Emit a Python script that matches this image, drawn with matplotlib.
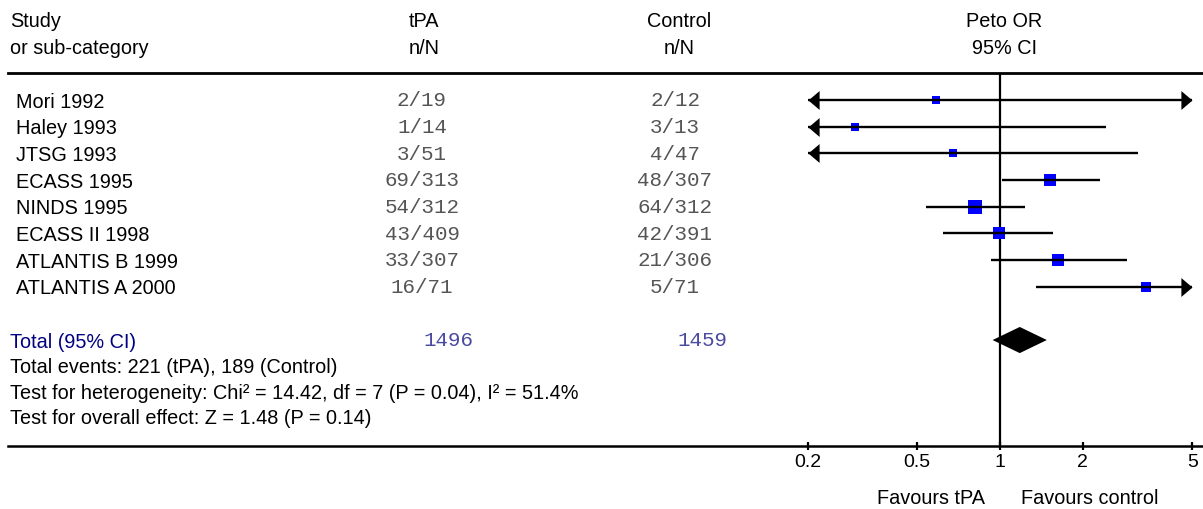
import numpy as np
import matplotlib
matplotlib.use("Agg")
import matplotlib.pyplot as plt
from matplotlib.path import Path
from matplotlib.markers import MarkerStyle
import matplotlib.transforms as mtransforms

plt.rcParams['font.family'] = ['Liberation Sans', 'DejaVu Sans']

# datos del forest plot
studies = ['Mori 1992', 'Haley 1993', 'JTSG 1993', 'ECASS 1995', 'NINDS 1995',
           'ECASS II 1998', 'ATLANTIS B 1999', 'ATLANTIS A 2000']
tpa_n = [2, 1, 3, 69, 54, 43, 33, 16]
tpa_N = [19, 14, 51, 313, 312, 409, 307, 71]
ctl_n = [2, 3, 4, 48, 64, 42, 21, 5]
ctl_N = [12, 13, 47, 307, 312, 391, 306, 71]
peto_or = [0.585, 0.297, 0.675, 1.52, 0.81, 0.99, 1.62, 3.39]
ci_lo = [0.07, 0.03, 0.12, 1.02, 0.54, 0.62, 0.93, 1.35]
ci_hi = [5.02, 2.43, 3.18, 2.31, 1.23, 1.56, 2.89, 8.5]
weights = [1.8, 1.5, 1.5, 14.0, 21.0, 15.0, 13.0, 5.5]

total_or = 1.18
total_lo = 0.94
total_hi = 1.48

footer = ['Total events: %d (tPA), %d (Control)' % (sum(tpa_n), sum(ctl_n)),
          'Test for heterogeneity: Chi² = 14.42, df = 7 (P = 0.04), I² = 51.4%',
          'Test for overall effect: Z = 1.48 (P = 0.14)']

ticks = [0.2, 0.5, 1, 2, 5]
x_min, x_max = 0.2, 5   # rango visible (flechas fuera)

W, H = 1203, 509
fig = plt.figure(figsize=(W / 100, H / 100), dpi=100)
ax = fig.add_axes([8 / W, (H - 446) / H, (W - 8) / W, 446 / H])

# escala: x=1 en px 1000, 275 px por decada
px_dec = 275.0
ax.set_xscale('log')
ax.set_xlim(10 ** ((8 - 1000) / px_dec), 10 ** ((W - 1000) / px_dec))
row_px = 26.67
y_bot = (446 - 100) / row_px
ax.set_ylim(y_bot, -100 / row_px)

for s in ['top', 'left', 'right']:
    ax.spines[s].set_visible(False)
ax.spines['bottom'].set_linewidth(1.8)
ax.set_yticks([])
ax.set_xticks(ticks)
ax.set_xticklabels([('%g' % t) for t in ticks])
ax.xaxis.set_minor_locator(matplotlib.ticker.NullLocator())
ax.tick_params(axis='x', direction='inout', length=6, width=1.6, pad=3, labelsize=14)

blend = mtransforms.blended_transform_factory(fig.transFigure, ax.transData)
mono = ['Liberation Mono', 'DejaVu Sans Mono']
fs = 14.3

# cabeceras
ax.text(10 / W, -3, 'Study', transform=blend, fontsize=fs, va='center_baseline')
ax.text(10 / W, -2, 'or sub-category', transform=blend, fontsize=fs, va='center_baseline')
for xp, h1 in [(424, 'tPA'), (679, 'Control'), (1004, 'Peto OR')]:
    ax.text(xp / W, -3, h1, transform=blend, fontsize=fs, ha='center', va='center_baseline')
for xp, h2 in [(424, 'n/N'), (679, 'n/N'), (1004, '95% CI')]:
    ax.text(xp / W, -2, h2, transform=blend, fontsize=fs, ha='center', va='center_baseline')

ax.axhline(-1, xmin=0, xmax=1, color='black', lw=2.0, clip_on=False)
ax.vlines(1, -1, y_bot, color='black', lw=1.6)

arrow_l = MarkerStyle(Path([(0, 0), (1, 0.85), (1, -0.85), (0, 0)]))
arrow_r = MarkerStyle(Path([(0, 0), (-1, 0.85), (-1, -0.85), (0, 0)]))

for i, name in enumerate(studies):
    ax.text(16 / W, i, name, transform=blend, fontsize=fs, va='center_baseline')
    ax.text(422 / W, i - 0.05, '%d/%d' % (tpa_n[i], tpa_N[i]), transform=blend, fontsize=15,
            family=mono, color='#555555', ha='center', va='center_baseline')
    ax.text(675 / W, i - 0.05, '%d/%d' % (ctl_n[i], ctl_N[i]), transform=blend, fontsize=15,
            family=mono, color='#555555', ha='center', va='center_baseline')
    lo = max(ci_lo[i], x_min)
    hi = min(ci_hi[i], x_max)
    ms = (6 + 1.74 * np.sqrt(weights[i])) * 0.72
    ax.plot(peto_or[i], i, marker='s', color='#0000ff', ms=ms, mew=0, zorder=2)
    ax.plot([lo, hi], [i, i], color='black', lw=1.7, zorder=3, solid_capstyle='butt')
    if ci_lo[i] < x_min:
        ax.plot(x_min, i, marker=arrow_l, color='black', ms=16, mew=0, zorder=3)
    if ci_hi[i] > x_max:
        ax.plot(x_max, i, marker=arrow_r, color='black', ms=16, mew=0, zorder=3)

# total
ty = 9
ax.text(10 / W, ty, 'Total (95% CI)', transform=blend, fontsize=fs, color='#000080',
        va='center_baseline')
ax.text(423 / W, ty - 0.05, str(sum(tpa_N)), transform=blend, fontsize=15, family=mono,
        color='#4a4aa0', ha='left', va='center_baseline')
ax.text(677 / W, ty - 0.05, str(sum(ctl_N)), transform=blend, fontsize=15, family=mono,
        color='#4a4aa0', ha='left', va='center_baseline')
ax.fill([total_lo, total_or, total_hi, total_or], [ty, ty - 0.49, ty, ty + 0.49],
        color='black', lw=0, zorder=3)

for k, line in enumerate(footer):
    ax.text(10 / W, [9.94, 10.93, 11.87][k], line, transform=blend, fontsize=fs,
            va='center_baseline')

ax.annotate('Favours tPA', xy=(1, 0), xycoords=('data', 'axes fraction'),
            xytext=(-15, -52), textcoords='offset pixels', ha='right', va='center',
            fontsize=fs, annotation_clip=False)
ax.annotate('Favours control', xy=(1, 0), xycoords=('data', 'axes fraction'),
            xytext=(21, -52), textcoords='offset pixels', ha='left', va='center',
            fontsize=fs, annotation_clip=False)

fig.savefig('out.png', dpi=100)
